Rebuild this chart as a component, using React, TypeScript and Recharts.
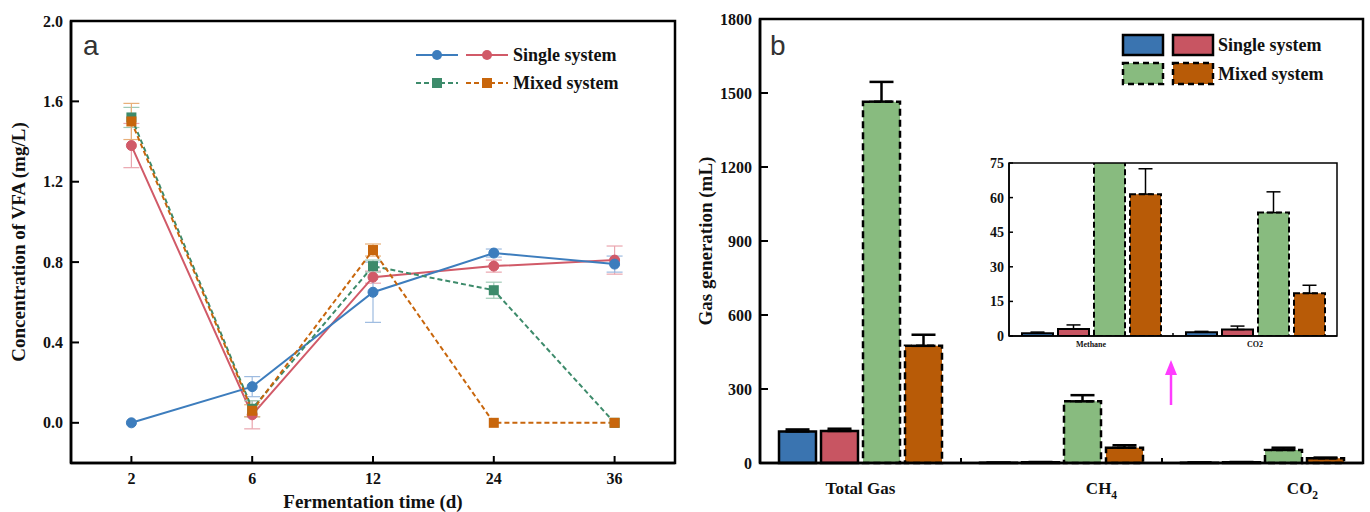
import React from 'react';
import { LineChart, Line, BarChart, Bar, XAxis, YAxis, ErrorBar } from 'recharts';

const SERIF = '"Liberation Serif", "Times New Roman", serif';

// panel a: VFA concentration
const days = ['2', '6', '12', '24', '36'];
const singleA = [0, 0.18, 0.65, 0.845, 0.79];
const singleAErr = [0, 0.05, 0.15, 0.02, 0.04];
const singleB = [1.38, 0.04, 0.725, 0.78, 0.81];
const singleBErr = [0.11, 0.07, 0.03, 0.03, 0.07];
const mixedA = [1.52, 0.07, 0.78, 0.66, 0];
const mixedAErr = [0.05, 0.04, 0.03, 0.04, 0];
const mixedB = [1.5, 0.06, 0.86, 0, 0];
const mixedBErr = [0.09, 0.03, 0.03, 0, 0];
const vfaTicks = [0, 0.4, 0.8, 1.2, 1.6, 2.0];

// panel b: gas generation
const gases = ['Total Gas', 'CH4', 'CO2'];
const gasSingleA = [128, 1, 1.5];
const gasSingleAErr = [8, 0, 0];
const gasSingleB = [130, 3, 3];
const gasSingleBErr = [9, 1, 1];
const gasMixedA = [1465, 250, 53];
const gasMixedAErr = [80, 25, 9];
const gasMixedB = [475, 62, 19];
const gasMixedBErr = [45, 10, 3];
const gasTicks = [0, 300, 600, 900, 1200, 1500, 1800];

// inset (zoom on CH4 / CO2)
const insetGases = ['Methane', 'CO2'];
const insetSingleA = [1.2, 1.6];
const insetSingleAErr = [0.5, 0.4];
const insetSingleB = [3, 2.8];
const insetSingleBErr = [1.8, 1.5];
const insetMixedA = [250, 53.5];
const insetMixedAErr = [25, 9];
const insetMixedB = [61.5, 18.5];
const insetMixedBErr = [11, 3.5];
const insetTicks = [0, 15, 30, 45, 60, 75];

const BLUE = '#3d7dbd';
const RED = '#d15a68';
const GREEN = '#3d8b6b';
const ORANGE = '#c8660c';
const BLUE_LT = '#9dbbe0';
const RED_LT = '#eaa5ae';
const GREEN_LT = '#9fcab6';
const ORANGE_LT = '#e8b07a';

const BAR_BLUE = '#3a74b0';
const BAR_RED = '#c85562';
const BAR_GREEN = '#88bb7f';
const BAR_ORANGE = '#b85b07';

// layout of the three plots (position of chart, size, margins, axis sizes)
const A = { left: 0, top: 0, w: 690, h: 512, mt: 21, mr: 15, yw: 71, xh: 49 };
const B = { left: 690, top: 0, w: 680, h: 512, mt: 19, mr: 7, yw: 70, xh: 49 };
const C = { left: 960, top: 150, w: 385, h: 205, mt: 13, mr: 8, yw: 49, xh: 19 };

const frameOf = (p: typeof A) => ({
  x: p.left + p.yw,
  y: p.top + p.mt,
  width: p.w - p.yw - p.mr,
  height: p.h - p.mt - p.xh,
});

function ValueTick(props: any) {
  const { x, y, payload, fmt, fsz, gap, len, lw } = props;
  return (
    <g>
      <line x1={x + gap} x2={x + gap + len} y1={y} y2={y} stroke="#000" strokeWidth={lw} />
      <text x={x} y={y} dy="0.35em" textAnchor="end" fontFamily={SERIF} fontWeight="bold" fontSize={fsz} fill="#111">
        {fmt(payload.value)}
      </text>
    </g>
  );
}

function DayTick(props: any) {
  const { x, y, payload } = props;
  return (
    <g>
      <line x1={x} x2={x} y1={y - 10} y2={y - 17} stroke="#000" strokeWidth={2} />
      <text x={x} y={y} dy="0.71em" textAnchor="middle" fontFamily={SERIF} fontWeight="bold" fontSize={16} fill="#111">
        {payload.value}
      </text>
    </g>
  );
}

function GasTick(props: any) {
  const { x, y, payload, index, band, count, shift, fsz, gap, len, lw, subscript } = props;
  const label = String(payload.value);
  const m = subscript ? label.match(/^(C[HO])(\d)$/) : null;
  const axisY = y - gap;
  return (
    <g>
      {index < count - 1 && (
        <line x1={x + band / 2} x2={x + band / 2} y1={axisY} y2={axisY - len} stroke="#000" strokeWidth={lw} />
      )}
      <text
        x={x + (index > 0 ? shift : 0)}
        y={y}
        dy="0.71em"
        textAnchor="middle"
        fontFamily={SERIF}
        fontWeight="bold"
        fontSize={fsz}
        fill="#111"
      >
        {m ? (
          <>
            <tspan>{m[1]}</tspan>
            <tspan dy={5} fontSize={fsz * 0.68}>{m[2]}</tspan>
          </>
        ) : (
          label
        )}
      </text>
    </g>
  );
}

const squareDot = (color: string, id: string) => (p: any) => (
  <rect key={`${id}-${p.index}`} x={p.cx - 5} y={p.cy - 5} width={10} height={10} fill={color} />
);

export default function App() {
  const vfaData = days.map((d, i) => ({
    day: d,
    sa: singleA[i],
    saE: singleAErr[i],
    sb: singleB[i],
    sbE: singleBErr[i],
    ma: mixedA[i],
    maE: mixedAErr[i],
    mb: mixedB[i],
    mbE: mixedBErr[i],
  }));

  const gasData = gases.map((g, i) => ({
    gas: g,
    sa: gasSingleA[i],
    saE: [0, gasSingleAErr[i]],
    sb: gasSingleB[i],
    sbE: [0, gasSingleBErr[i]],
    ma: gasMixedA[i],
    maE: [0, gasMixedAErr[i]],
    mb: gasMixedB[i],
    mbE: [0, gasMixedBErr[i]],
  }));

  const insetData = insetGases.map((g, i) => ({
    gas: g,
    sa: insetSingleA[i],
    saE: [0, insetSingleAErr[i]],
    sb: insetSingleB[i],
    sbE: [0, insetSingleBErr[i]],
    ma: insetMixedA[i],
    maE: [0, insetMixedAErr[i]],
    mb: insetMixedB[i],
    mbE: [0, insetMixedBErr[i]],
  }));

  const gasBand = (B.w - B.yw - B.mr) / gases.length;
  const insetBand = (C.w - C.yw - C.mr) / insetGases.length;
  const box = { stroke: '#000', strokeWidth: 2.5 };
  const thinBox = { stroke: '#000', strokeWidth: 1.5 };
  const titleFont = { fill: '#111', fontSize: 19, fontWeight: 'bold', fontFamily: SERIF };
  const fa = frameOf(A);
  const fb = frameOf(B);
  const fc = frameOf(C);

  return (
    <div style={{ position: 'absolute', left: 0, top: 0, width: 1370, height: 512, background: '#fff' }}>
      {/* panel a */}
      <div style={{ position: 'absolute', left: A.left, top: A.top }}>
        <LineChart width={A.w} height={A.h} data={vfaData} margin={{ top: A.mt, right: A.mr, bottom: 0, left: 0 }}>
          <XAxis
            dataKey="day"
            scale="band"
            height={A.xh}
            tickSize={0}
            tickMargin={10}
            tick={<DayTick />}
            axisLine={box}
            label={{ value: 'Fermentation time (d)', position: 'insideBottom', offset: 4, ...titleFont }}
          />
          <YAxis
            domain={[-0.2, 2]}
            ticks={vfaTicks}
            width={A.yw}
            tickSize={0}
            tickMargin={8}
            tick={<ValueTick fmt={(v: number) => v.toFixed(1)} fsz={16} gap={8} len={8} lw={2} />}
            axisLine={box}
            label={{
              value: 'Concentration of VFA (mg/L)',
              angle: -90,
              position: 'insideLeft',
              offset: 18,
              style: { textAnchor: 'middle' },
              ...titleFont,
            }}
          />
          <Line dataKey="sb" stroke={RED} strokeWidth={2} dot={{ r: 5, fill: RED, stroke: RED, strokeWidth: 1 }} activeDot={false} isAnimationActive={false}>
            <ErrorBar dataKey="sbE" width={8} stroke={RED_LT} strokeWidth={1.2} direction="y" />
          </Line>
          <Line dataKey="sa" stroke={BLUE} strokeWidth={2} dot={{ r: 5, fill: BLUE, stroke: BLUE, strokeWidth: 1 }} activeDot={false} isAnimationActive={false}>
            <ErrorBar dataKey="saE" width={8} stroke={BLUE_LT} strokeWidth={1.2} direction="y" />
          </Line>
          <Line dataKey="ma" stroke={GREEN} strokeWidth={2} strokeDasharray="5 3" dot={squareDot(GREEN, 'ma')} activeDot={false} isAnimationActive={false}>
            <ErrorBar dataKey="maE" width={8} stroke={GREEN_LT} strokeWidth={1.2} direction="y" />
          </Line>
          <Line dataKey="mb" stroke={ORANGE} strokeWidth={2} strokeDasharray="5 3" dot={squareDot(ORANGE, 'mb')} activeDot={false} isAnimationActive={false}>
            <ErrorBar dataKey="mbE" width={8} stroke={ORANGE_LT} strokeWidth={1.2} direction="y" />
          </Line>
        </LineChart>
      </div>

      {/* panel b */}
      <div style={{ position: 'absolute', left: B.left, top: B.top }}>
        <BarChart
          width={B.w}
          height={B.h}
          data={gasData}
          margin={{ top: B.mt, right: B.mr, bottom: 0, left: 0 }}
          barCategoryGap={19}
          barGap={5}
        >
          <XAxis
            dataKey="gas"
            height={B.xh}
            tickSize={0}
            tickMargin={19}
            tick={<GasTick band={gasBand} count={gases.length} shift={40} fsz={17} gap={19} len={5} lw={2} subscript />}
            axisLine={box}
          />
          <YAxis
            domain={[0, 1800]}
            ticks={gasTicks}
            width={B.yw}
            tickSize={0}
            tickMargin={8}
            tick={<ValueTick fmt={(v: number) => String(v)} fsz={16} gap={8} len={8} lw={2} />}
            axisLine={box}
            label={{
              value: 'Gas generation (mL)',
              angle: -90,
              position: 'insideLeft',
              offset: 15,
              style: { textAnchor: 'middle' },
              ...titleFont,
            }}
          />
          <Bar dataKey="sa" fill={BAR_BLUE} stroke="#000" strokeWidth={2.5} isAnimationActive={false}>
            <ErrorBar dataKey="saE" width={12} stroke="#000" strokeWidth={2.5} direction="y" />
          </Bar>
          <Bar dataKey="sb" fill={BAR_RED} stroke="#000" strokeWidth={2.5} isAnimationActive={false}>
            <ErrorBar dataKey="sbE" width={12} stroke="#000" strokeWidth={2.5} direction="y" />
          </Bar>
          <Bar dataKey="ma" fill={BAR_GREEN} stroke="#000" strokeWidth={2.5} strokeDasharray="7 4" isAnimationActive={false}>
            <ErrorBar dataKey="maE" width={12} stroke="#000" strokeWidth={2.5} direction="y" />
          </Bar>
          <Bar dataKey="mb" fill={BAR_ORANGE} stroke="#000" strokeWidth={2.5} strokeDasharray="7 4" isAnimationActive={false}>
            <ErrorBar dataKey="mbE" width={12} stroke="#000" strokeWidth={2.5} direction="y" />
          </Bar>
        </BarChart>
      </div>

      {/* inset */}
      <div style={{ position: 'absolute', left: C.left, top: C.top }}>
        <BarChart
          width={C.w}
          height={C.h}
          data={insetData}
          margin={{ top: C.mt, right: C.mr, bottom: 0, left: 0 }}
          barCategoryGap={13}
          barGap={5}
        >
          <XAxis
            dataKey="gas"
            height={C.xh}
            tickSize={0}
            tickMargin={5}
            tick={<GasTick band={insetBand} count={insetGases.length} shift={0} fsz={8} gap={5} len={3} lw={1.5} />}
            axisLine={thinBox}
          />
          <YAxis
            domain={[0, 75]}
            ticks={insetTicks}
            allowDataOverflow
            width={C.yw}
            tickSize={0}
            tickMargin={5}
            tick={<ValueTick fmt={(v: number) => String(v)} fsz={14} gap={5} len={4} lw={1.5} />}
            axisLine={thinBox}
          />
          <Bar dataKey="sa" fill={BAR_BLUE} stroke="#000" strokeWidth={2} isAnimationActive={false}>
            <ErrorBar dataKey="saE" width={7} stroke="#000" strokeWidth={1.5} direction="y" />
          </Bar>
          <Bar dataKey="sb" fill={BAR_RED} stroke="#000" strokeWidth={2} isAnimationActive={false}>
            <ErrorBar dataKey="sbE" width={7} stroke="#000" strokeWidth={1.5} direction="y" />
          </Bar>
          <Bar dataKey="ma" fill={BAR_GREEN} stroke="#000" strokeWidth={2} strokeDasharray="6 3" isAnimationActive={false}>
            <ErrorBar dataKey="maE" width={7} stroke="#000" strokeWidth={1.5} direction="y" />
          </Bar>
          <Bar dataKey="mb" fill={BAR_ORANGE} stroke="#000" strokeWidth={2} strokeDasharray="6 3" isAnimationActive={false}>
            <ErrorBar dataKey="mbE" width={7} stroke="#000" strokeWidth={1.5} direction="y" />
          </Bar>
        </BarChart>
      </div>

      {/* frames, panel letters, legends, arrow */}
      <svg width={1370} height={512} style={{ position: 'absolute', left: 0, top: 0, pointerEvents: 'none' }}>
        <rect {...fa} fill="none" stroke="#000" strokeWidth={2.5} />
        <rect {...fb} fill="none" stroke="#000" strokeWidth={2.5} />
        <rect {...fc} fill="none" stroke="#000" strokeWidth={1.5} />

        <text x={83} y={55} fontFamily='"Liberation Sans", Arial, sans-serif' fontSize={28} fill="#333">a</text>
        <text x={770} y={55} fontFamily='"Liberation Sans", Arial, sans-serif' fontSize={28} fill="#333">b</text>

        <g fontFamily={SERIF} fontWeight="bold" fontSize={18} fill="#111">
          <line x1={416} x2={458} y1={55} y2={55} stroke={BLUE} strokeWidth={2} />
          <circle cx={437} cy={55} r={5} fill={BLUE} />
          <line x1={466} x2={508} y1={55} y2={55} stroke={RED} strokeWidth={2} />
          <circle cx={487} cy={55} r={5} fill={RED} />
          <text x={513} y={61}>Single system</text>
          <line x1={416} x2={458} y1={83} y2={83} stroke={GREEN} strokeWidth={2} strokeDasharray="5 3" />
          <rect x={432} y={78} width={10} height={10} fill={GREEN} />
          <line x1={466} x2={508} y1={83} y2={83} stroke={ORANGE} strokeWidth={2} strokeDasharray="5 3" />
          <rect x={482} y={78} width={10} height={10} fill={ORANGE} />
          <text x={513} y={89}>Mixed system</text>

          <rect x={1123} y={35} width={40} height={20} fill={BAR_BLUE} stroke="#000" strokeWidth={2.5} />
          <rect x={1173} y={35} width={40} height={20} fill={BAR_RED} stroke="#000" strokeWidth={2.5} />
          <text x={1218} y={51}>Single system</text>
          <rect x={1123} y={63} width={40} height={21} fill={BAR_GREEN} stroke="#000" strokeWidth={2.5} strokeDasharray="6 4" />
          <rect x={1173} y={63} width={40} height={21} fill={BAR_ORANGE} stroke="#000" strokeWidth={2.5} strokeDasharray="6 4" />
          <text x={1218} y={80}>Mixed system</text>
        </g>

        <line x1={1171} x2={1171} y1={405} y2={372} stroke="#ff3cff" strokeWidth={2.5} />
        <polygon points="1171,360 1165,375 1177,375" fill="#ff3cff" />
      </svg>
    </div>
  );
}
